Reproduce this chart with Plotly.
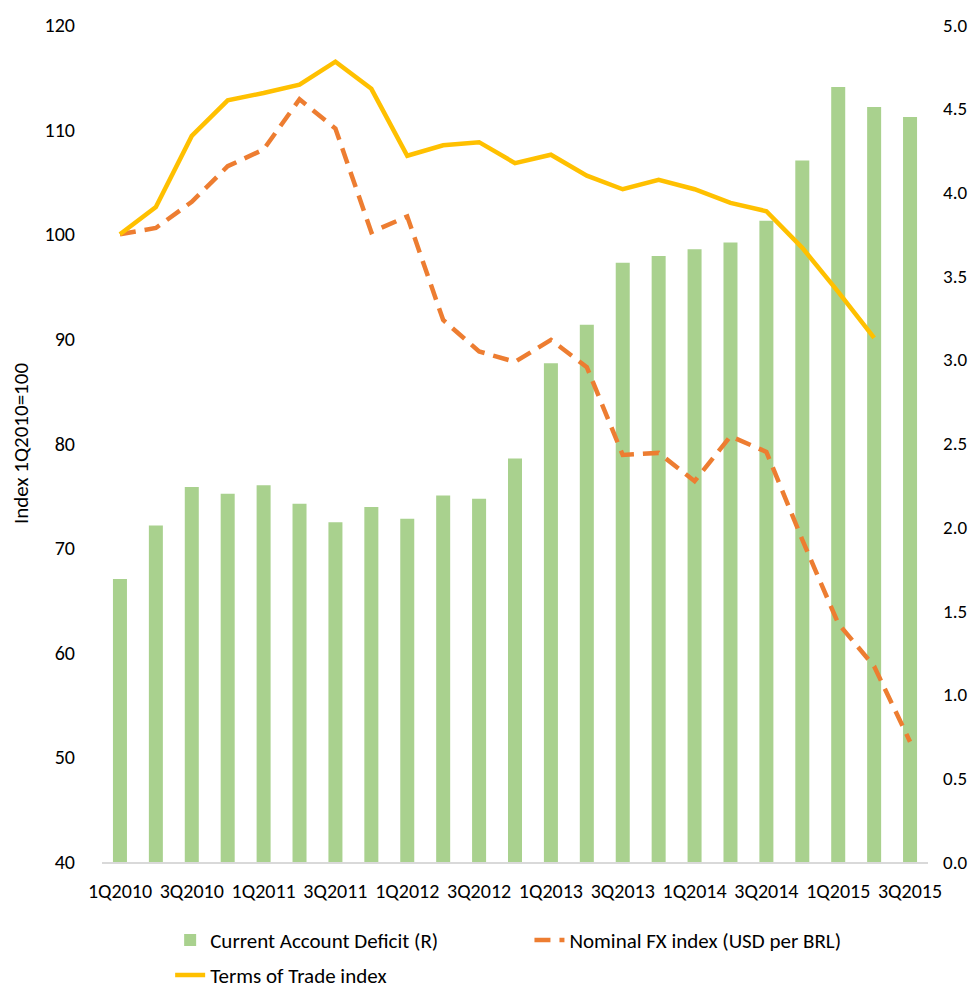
import plotly.graph_objects as go

quarters = ["1Q2010", "2Q2010", "3Q2010", "4Q2010", "1Q2011", "2Q2011", "3Q2011", "4Q2011",
            "1Q2012", "2Q2012", "3Q2012", "4Q2012", "1Q2013", "2Q2013", "3Q2013", "4Q2013",
            "1Q2014", "2Q2014", "3Q2014", "4Q2014", "1Q2015", "2Q2015", "3Q2015"]

current_account_deficit = [1.69, 2.01, 2.24, 2.20, 2.25, 2.14, 2.03, 2.12, 2.05, 2.19, 2.17,
                           2.41, 2.98, 3.21, 3.58, 3.62, 3.66, 3.70, 3.83, 4.19, 4.63, 4.51, 4.45]

nominal_fx_index = [100.0, 100.6, 103.1, 106.5, 108.1, 112.9, 110.1, 100.2, 101.7, 91.8, 88.8,
                    87.8, 89.9, 87.3, 78.9, 79.1, 76.4, 80.7, 79.2, 70.8, 62.8, 58.7, 51.5]

terms_of_trade = [100.0, 102.6, 109.4, 112.8, 113.5, 114.3, 116.5, 113.9, 107.5, 108.5, 108.8,
                  106.8, 107.6, 105.6, 104.3, 105.2, 104.3, 103.0, 102.2, 98.7, 94.5, 90.1, None]

tick_labels = quarters[::2]
left_ticks = [40, 50, 60, 70, 80, 90, 100, 110, 120]
right_ticks = [0.0, 0.5, 1.0, 1.5, 2.0, 2.5, 3.0, 3.5, 4.0, 4.5, 5.0]

FONT = "Calibri, Carlito, Lato, sans-serif"
LEG_FONT = dict(family=FONT, size=21, color="#000000")

fig = go.Figure()
fig.add_trace(go.Bar(x=quarters, y=current_account_deficit, name="Current Account Deficit (R)",
                     marker=dict(color="#a9d18e", line=dict(width=0)), yaxis="y",
                     legend="legend"))
fig.add_trace(go.Scatter(x=quarters, y=nominal_fx_index, name="Nominal FX index (USD per BRL)",
                         mode="lines", line=dict(color="#ed7d31", width=4.5, dash="16px,9px"),
                         yaxis="y2", legend="legend2"))
fig.add_trace(go.Scatter(x=quarters, y=terms_of_trade, name="Terms of Trade index",
                         mode="lines", line=dict(color="#ffc000", width=4.5), yaxis="y2",
                         connectgaps=False, legend="legend3"))

fig.update_layout(
    width=979, height=991,
    margin=dict(l=94, r=59, t=17, b=137, autoexpand=False),
    paper_bgcolor="white", plot_bgcolor="white",
    font=dict(family=FONT, size=20, color="#000000"),
    bargap=0.61,
    showlegend=True,
    legend=dict(orientation="h", x=0.0825, xanchor="left", y=-0.069, yanchor="top",
                font=LEG_FONT),
    legend2=dict(orientation="h", x=0.5175, xanchor="left", y=-0.069, yanchor="top",
                 font=LEG_FONT),
    legend3=dict(orientation="h", x=0.0825, xanchor="left", y=-0.1108, yanchor="top",
                 font=LEG_FONT),
    xaxis=dict(type="category", tickmode="array", tickvals=tick_labels, ticktext=tick_labels,
               showline=True, linecolor="#d9d9d9", linewidth=1.5, ticks="",
               showgrid=False, tickangle=0, ticklabelstandoff=10),
    yaxis=dict(side="right", range=[0, 5], tickmode="array", tickvals=right_ticks,
               tickformat=".1f", showgrid=False, zeroline=False, ticks="",
               showline=False, ticklabelstandoff=14, tickfont=dict(size=19)),
    yaxis2=dict(side="left", overlaying="y", range=[40, 120], tickmode="array",
                tickvals=left_ticks, showgrid=False, zeroline=False, ticks="",
                showline=False, ticklabelstandoff=26,
                title=dict(text="Index 1Q2010=100", font=dict(family=FONT, size=21),
                           standoff=18)),
)

fig.write_html("out.html")
